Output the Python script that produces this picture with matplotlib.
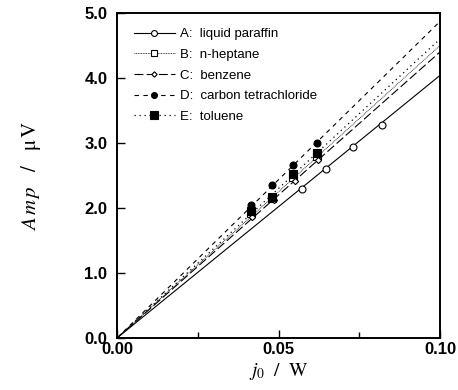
import numpy as np
import matplotlib
matplotlib.use("Agg")
import matplotlib.pyplot as plt
from matplotlib.ticker import MultipleLocator

plt.rcParams['mathtext.fontset'] = 'stix'

# данные
labels = ['A:  liquid paraffin', 'B:  n-heptane', 'C:  benzene',
          'D:  carbon tetrachloride', 'E:  toluene']

x_a = [0.0572, 0.0647, 0.0731, 0.0821]
y_a = [2.29, 2.60, 2.94, 3.28]

x_b = [0.0415, 0.0479, 0.0546, 0.0618]
y_b = [1.92, 2.15, 2.48, 2.80]

x_c = [0.0418, 0.0486, 0.0551, 0.0622]
y_c = [1.86, 2.12, 2.42, 2.74]

x_d = [0.0415, 0.0479, 0.0546, 0.0618]
y_d = [2.05, 2.35, 2.66, 3.00]

x_e = [0.0415, 0.0479, 0.0546, 0.0618]
y_e = [1.95, 2.17, 2.52, 2.84]

# наклоны прямых через начало координат (мкВ / Вт)
slopes = [40.4, 45.0, 44.0, 48.7, 46.0]

x_fit = np.array([0.0, 0.10])

fig = plt.figure(figsize=(4.58, 3.90), dpi=100)
ax = fig.add_axes([0.2555, 0.1333, 0.7052, 0.8334])

series = [(x_a, y_a), (x_b, y_b), (x_c, y_c), (x_d, y_d), (x_e, y_e)]
styles = [
    dict(ls='-', lw=0.8, marker='o', ms=5, mfc='white', mec='black'),
    dict(ls=(0, (1, 1)), lw=0.6, marker='s', ms=5.5, mfc='white', mec='black'),
    dict(ls=(0, (8, 3)), lw=0.8, marker='D', ms=3.2, mfc='white', mec='black'),
    dict(ls=(0, (4, 4)), lw=0.8, marker='o', ms=5, mfc='black', mec='black'),
    dict(ls=(0, (1, 3)), lw=0.9, marker='s', ms=6, mfc='black', mec='black'),
]

for (xs, ys), k, st, lab in zip(series, slopes, styles, labels):
    ax.plot(x_fit, k * x_fit, color='black', ls=st['ls'], lw=st['lw'])
    ax.plot(xs, ys, ls='none', marker=st['marker'], ms=st['ms'],
            mfc=st['mfc'], mec=st['mec'], mew=0.8)
    # запись для легенды
    ax.plot([], [], color='black', ls=st['ls'], lw=st['lw'], marker=st['marker'],
            ms=st['ms'] * 0.85, mfc=st['mfc'], mec=st['mec'], mew=0.8, label=lab)

ax.set_xlim(0, 0.10)
ax.set_ylim(0, 5.0)
ax.xaxis.set_minor_locator(MultipleLocator(0.025))
ax.set_xticks([0.0, 0.05, 0.10])
ax.set_xticklabels(['0.00', '0.05', '0.10'])
ax.set_yticks([0, 1, 2, 3, 4, 5])
ax.set_yticklabels(['0.0', '1.0', '2.0', '3.0', '4.0', '5.0'])

ax.tick_params(which='major', direction='in', length=6, width=1.0)
ax.tick_params(which='minor', direction='in', length=4, width=1.0)
ax.tick_params(axis='y', pad=7)
ax.tick_params(axis='x', pad=3)
for lbl in ax.get_xticklabels() + ax.get_yticklabels():
    lbl.set_fontfamily('Liberation Sans')
    lbl.set_fontweight('bold')
    lbl.set_fontsize(12)

for sp in ax.spines.values():
    sp.set_linewidth(1.4)

ax.set_xlabel(r'$j_0\ \ /\ \ \mathrm{W}$', fontsize=14, labelpad=3)
ax.set_ylabel(r'$A\,m\,p\ \ \ /\ \ \ \mathrm{\mu\,V}$', fontsize=15, labelpad=30)

leg = ax.legend(loc='upper left', frameon=False, handlelength=3.1,
                handletextpad=0.4, labelspacing=0.64, numpoints=1,
                prop={'family': 'Liberation Sans', 'size': 9.5},
                bbox_to_anchor=(0.035, 0.97), borderaxespad=0.0)

fig.savefig('out.png', dpi=100)
